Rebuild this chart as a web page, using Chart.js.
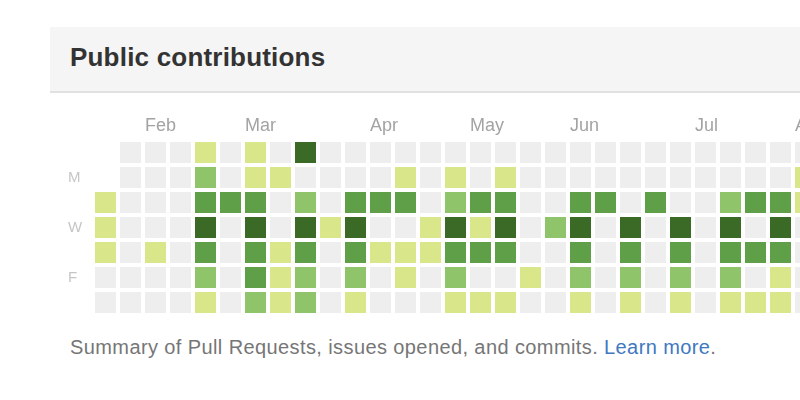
<!DOCTYPE html>
<html>
<head>
<meta charset="utf-8">
<script src="https://cdn.jsdelivr.net/npm/chart.js@4/dist/chart.umd.min.js"></script>
<style>
  body { margin: 0; width: 800px; height: 400px; background: #fff; overflow: hidden; position: relative; font-family: "Liberation Sans", Arial, sans-serif; }
  .box-header { position: absolute; left: 50px; top: 27px; width: 750px; height: 64px; background: #f5f5f5; border-bottom: 2px solid #e1e1e1; }
  .box-header h3 { margin: 0; position: absolute; left: 20px; top: 15px; font-size: 26px; font-weight: bold; color: #333; letter-spacing: 0.2px; }
  .chart-wrap { position: absolute; left: 0; top: 100px; width: 800px; height: 215px; }
  .footer { position: absolute; left: 70px; top: 336px; margin: 0; font-size: 20px; letter-spacing: 0.4px; color: #767676; white-space: nowrap; }
  .footer a { color: #4078c0; text-decoration: none; }
</style>
</head>
<body>
<div class="box-header"><h3>Public contributions</h3></div>
<div class="chart-wrap"><canvas id="contribChart"></canvas></div>
<p class="footer">Summary of Pull Requests, issues opened, and commits. <a href="#">Learn more</a>.</p>

<script>
// Niveles de contribución por día de la semana (una entrada por semana, null = sin celda)
const sun = [null, 0, 0, 0, 1, 0, 1, 0, 4, 0, 0, 0, 0, 0, 0, 0, 0, 0, 0, 0, 0, 0, 0, 0, 0, 0, 0, 0, 0];
const mon = [null, 0, 0, 0, 2, 0, 1, 1, 0, 0, 0, 0, 1, 0, 1, 0, 1, 0, 0, 0, 0, 0, 0, 0, 0, 0, 0, 0, 1];
const tue = [1, 0, 0, 0, 3, 3, 3, 0, 2, 0, 3, 3, 3, 0, 2, 3, 3, 0, 0, 3, 3, 0, 3, 0, 0, 2, 3, 3, 1];
const wed = [1, 0, 0, 0, 4, 0, 4, 0, 4, 1, 4, 0, 0, 1, 4, 1, 4, 0, 2, 4, 0, 4, 0, 4, 0, 4, 0, 4, 0];
const thu = [1, 0, 1, 0, 3, 0, 3, 1, 3, 0, 3, 1, 1, 1, 3, 3, 3, 0, 0, 3, 0, 3, 0, 3, 0, 3, 3, 3, 0];
const fri = [0, 0, 0, 0, 2, 0, 3, 1, 2, 0, 2, 0, 1, 0, 2, 0, 0, 1, 0, 2, 0, 2, 0, 2, 0, 2, 0, 1, 0];
const sat = [0, 0, 0, 0, 1, 0, 2, 1, 2, 0, 1, 0, 0, 0, 1, 1, 1, 0, 0, 1, 0, 1, 0, 1, 0, 1, 1, 1, 0];

const days = [sun, mon, tue, wed, thu, fri, sat];
const dayLabels = ['', 'M', '', 'W', '', 'F', ''];

// Meses y la semana en la que empieza cada uno
const monthLabels = ['Feb', 'Mar', 'Apr', 'May', 'Jun', 'Jul', 'Aug'];
const monthWeeks = [2, 6, 11, 15, 19, 24, 28];

// Colores de cada nivel
const levelColors = ['#eeeeee', '#d9e68a', '#8fc46a', '#5f9f48', '#3b6a27'];

// Un dataset por nivel
const datasets = levelColors.map(function (color, level) {
    const points = [];
    days.forEach(function (row, d) {
        row.forEach(function (v, w) {
            if (v === level) points.push({ x: w, y: d });
        });
    });
    return {
        data: points,
        backgroundColor: color,
        pointStyle: 'rect',
        pointRadius: 21 / Math.SQRT2,
        pointBorderWidth: 0,
        borderWidth: 0,
        clip: false
    };
});

const ctx = document.getElementById('contribChart').getContext('2d');
const chart = new Chart(ctx, {
    type: 'scatter',
    data: { datasets: datasets },
    options: {
        responsive: true,
        maintainAspectRatio: false,
        animation: false,
        events: [],
        layout: { autoPadding: false, padding: { left: 68, right: 0, top: 0, bottom: 0 } },
        plugins: { legend: { display: false }, tooltip: { enabled: false } },
        scales: {
            x: {
                type: 'linear',
                position: 'top',
                min: -0.5,
                max: -0.5 + 707 / 25,
                grid: { display: false, drawTicks: false },
                border: { display: false },
                afterBuildTicks: function (scale) {
                    scale.ticks = monthWeeks.map(function (w) { return { value: w - 0.42 }; });
                },
                afterFit: function (scale) {
                    scale.height = 40;
                    scale.paddingLeft = 0;
                    scale.paddingRight = 0;
                },
                ticks: {
                    align: 'start',
                    padding: 3,
                    color: '#a3a3a3',
                    font: { family: 'Liberation Sans', size: 18 },
                    callback: function (value, i) { return monthLabels[i]; }
                }
            },
            y: {
                type: 'linear',
                position: 'left',
                reverse: true,
                min: -0.5,
                max: 6.5,
                grid: { display: false, drawTicks: false },
                border: { display: false },
                afterBuildTicks: function (scale) {
                    scale.ticks = dayLabels.map(function (l, i) { return { value: i }; });
                },
                afterFit: function (scale) {
                    scale.width = 25;
                    scale.paddingTop = 0;
                    scale.paddingBottom = 0;
                },
                ticks: {
                    crossAlign: 'far',
                    color: '#c6c6c6',
                    font: { family: 'Liberation Sans', size: 15 },
                    callback: function (value, i) { return dayLabels[i]; }
                }
            }
        }
    }
});
</script>
</body>
</html>
